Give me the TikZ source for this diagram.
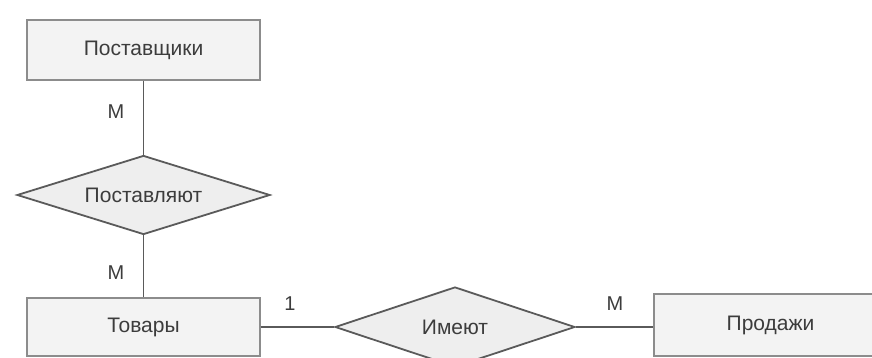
\documentclass[tikz,border=0pt]{standalone}
\usepackage{fontspec}
\setmainfont{Liberation Sans}
\usetikzlibrary{shapes.geometric}
\definecolor{boxfill}{HTML}{F3F3F3}
\definecolor{boxline}{HTML}{8C8C8C}
\definecolor{dfill}{HTML}{EEEEEE}
\definecolor{dline}{HTML}{5A5A5A}
\definecolor{txt}{HTML}{3C3C3C}
\tikzset{
  entity/.style={draw=boxline, fill=boxfill, line width=1.4pt, rectangle, minimum width=233pt, minimum height=60pt, inner sep=0pt, text=txt, font=\fontsize{21}{24}\selectfont},
  rel/.style={draw=dline, fill=dfill, line width=1.8pt, diamond, aspect=3.1, inner sep=0pt, text=txt, font=\fontsize{21}{24}\selectfont},
  conn/.style={draw=dline, line width=1.4pt},
  card/.style={text=txt, font=\fontsize{20}{24}\selectfont, inner sep=0pt}
}
\begin{document}
\begin{tikzpicture}[x=1pt,y=-1pt]
\useasboundingbox (0,0) rectangle (872,358);
\node[entity] (sup) at (143.5,50) {Поставщики};
\node[rel, minimum width=253pt, minimum height=79pt] (del) at (143.5,195) {Поставляют};
\node[entity, minimum height=58pt] (tov) at (143.5,327) {Товары};
\node[rel, minimum width=240pt, minimum height=80pt] (has) at (455,327) {Имеют};
\node[entity, minimum width=233pt, minimum height=62pt] (sal) at (770.5,325) {Продажи};
\draw[conn] (sup.south) -- (del.north);
\draw[conn] (del.south) -- (tov.north);
\draw[conn] (tov.east) -- (has.west);
\draw[conn] (has.east) -- (sal.west |- has.east);
\node[card] (m1) at (116,112) {M};
\node[card] (m2) at (116,273) {M};
\node[card] (one) at (290,304) {1};
\node[card] (m3) at (615,304) {M};
\end{tikzpicture}
\end{document}
